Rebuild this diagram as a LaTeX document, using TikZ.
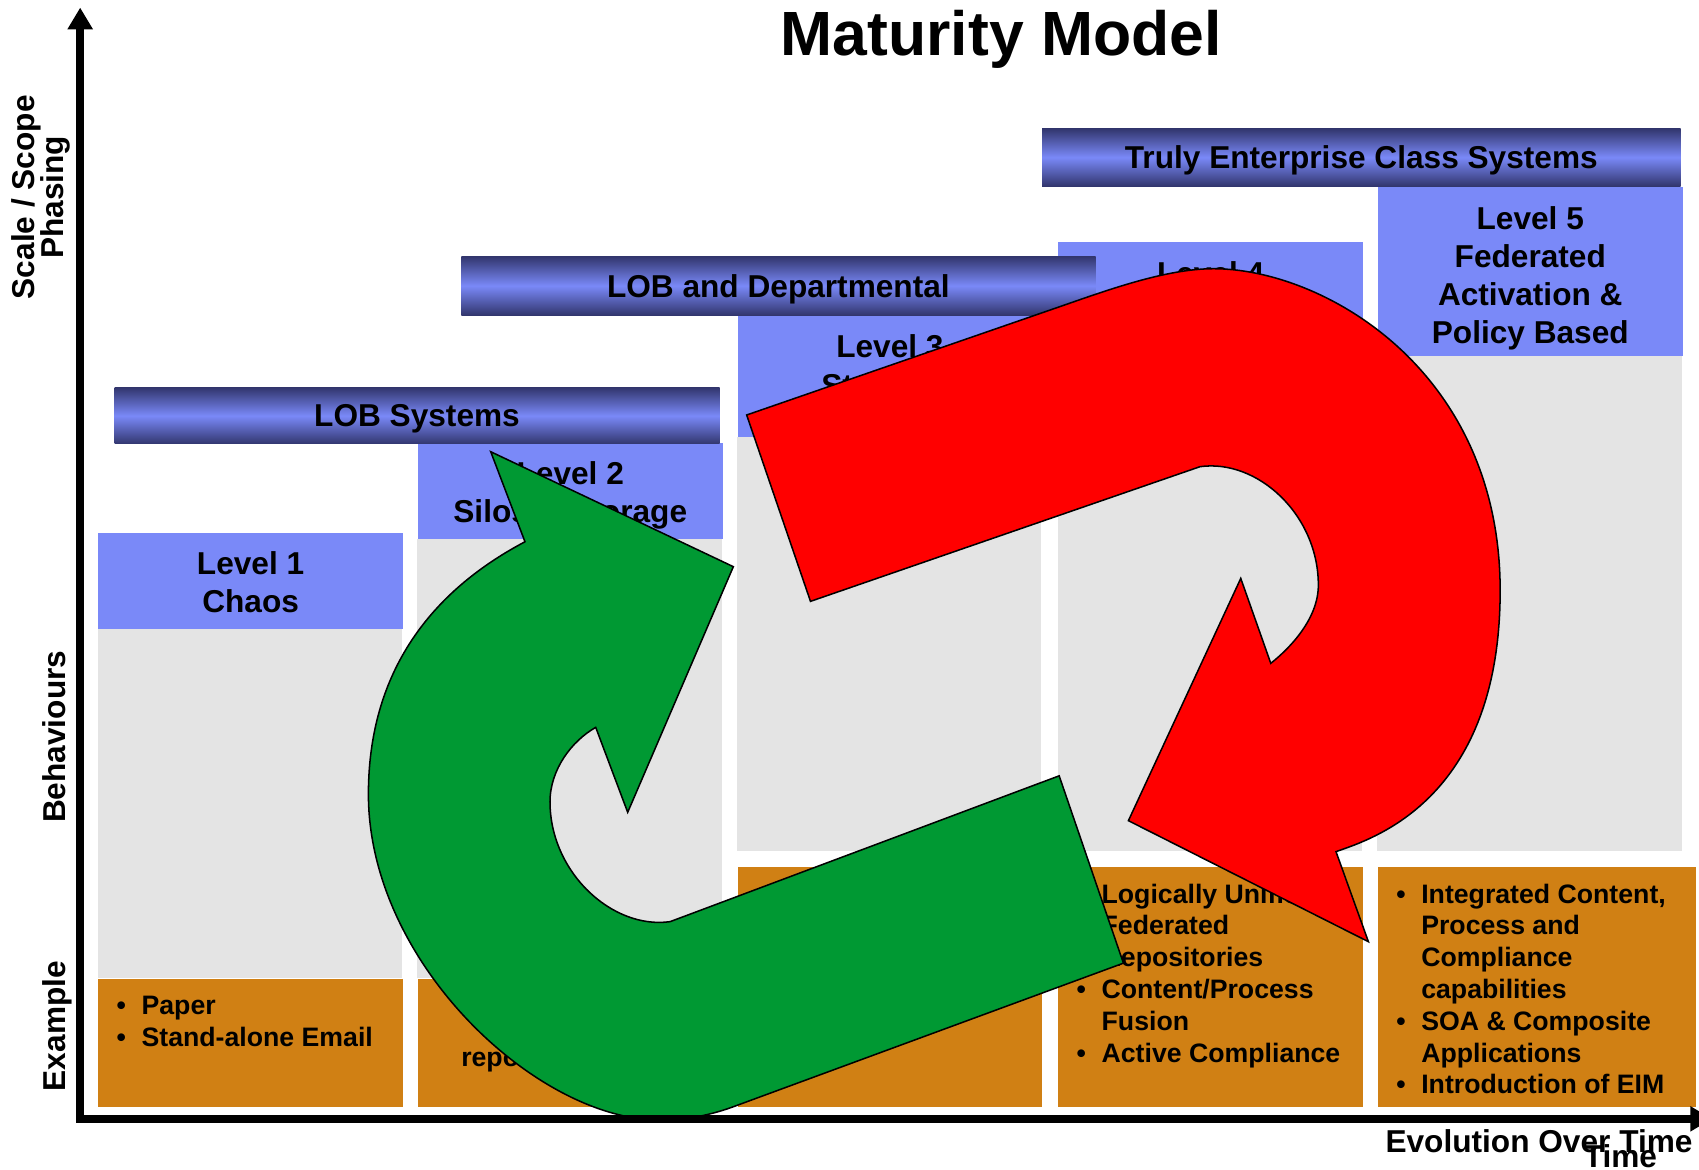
\documentclass[tikz,border=0pt]{standalone}
\usepackage{fontspec}
\setmainfont{Liberation Sans}
\usetikzlibrary{arrows.meta}
\definecolor{lvlblue}{RGB}{122,137,248}
\definecolor{banddark}{RGB}{50,54,110}
\definecolor{exorange}{RGB}{208,128,20}
\definecolor{gridgray}{RGB}{228,228,228}
\definecolor{loopgreen}{RGB}{0,153,51}
\definecolor{loopred}{RGB}{255,0,0}
\newcommand{\itemdot}{\makebox[0.23cm][l]{\textbullet}}
\newcommand{\itemgap}{\hspace*{0.23cm}}

\begin{document}
\begin{tikzpicture}[x=0.01cm, y=-0.01cm]
   \useasboundingbox (0,0) rectangle (1568,1079);
   \tikzstyle{banner}=[anchor=north west, inner sep=0, text depth=0pt, top color=banddark, bottom color=banddark, middle color=lvlblue, font=\fontsize{8.3}{10}\selectfont\bfseries]
   \tikzstyle{lvlbox}=[anchor=north west, inner sep=0, fill=lvlblue, minimum width=2.81cm]
   \tikzstyle{lvltext}=[anchor=north, inner xsep=0, inner ysep=0.175cm, align=center, font=\fontsize{8.3}{10}\selectfont\bfseries]
   \tikzstyle{exbox}=[anchor=north west, inner sep=0, fill=exorange, minimum width=2.81cm]
   \tikzstyle{extext}=[anchor=north west, inner xsep=0.17cm, inner ysep=0.16cm, align=left, font=\fontsize{7}{8.34}\selectfont\bfseries]
   \tikzstyle{axislabel}=[rotate=90, align=center, font=\fontsize{8.3}{7.5}\selectfont\bfseries, execute at begin node={\setlength{\lineskiplimit}{-5pt}}]
   \tikzstyle{timetext}=[anchor=base west, inner sep=0, font=\fontsize{8.3}{10}\selectfont\bfseries]
   \tikzstyle{looparrow}=[draw=black, line width=0.4pt, line join=miter]
   \tikzstyle{axis}=[line width=2pt, line cap=rect, -{Triangle[length=5.7pt, width=6.3pt]}]
   % grey behaviour columns
   \foreach \x/\ya/\yb in {90/580/903, 385/497/903, 680/403/785, 976/334/785, 1271/328/785}
      \fill[gridgray] (\x,\ya) rectangle (\x+281,\yb);
   % levels
   \node[lvlbox, minimum height=0.89cm] (lvl1) at (90,491) {};
   \node[lvltext] at (lvl1.north) {Level 1\\Chaos};
   \node[lvlbox, minimum height=0.89cm] (lvl2) at (385,408) {};
   \node[lvltext] at (lvl2.north) {Level 2\\Silos \& Storage};
   \node[lvlbox, minimum height=1.12cm] (lvl3) at (680,291) {};
   \node[lvltext] at (lvl3.north) {Level 3\\Standard};
   \node[lvlbox, minimum height=1.11cm] (lvl4) at (976,223) {};
   \node[lvltext] at (lvl4.north) {Level 4};
   \node[lvlbox, minimum height=1.56cm] (lvl5) at (1271,172) {};
   \node[lvltext] at (lvl5.north) {Level 5\\Federated\\Activation \&\\Policy Based};
   % scope banners
   \node[banner, minimum width=5.58cm, minimum height=0.52cm] (lob) at (105,357) {LOB Systems};
   \node[banner, minimum width=5.85cm, minimum height=0.54cm] (dept) at (425,236) {LOB and Departmental};
   \node[banner, minimum width=5.89cm, minimum height=0.53cm] (enterprise) at (961,118) {Truly Enterprise Class Systems};
   % examples
   \node[exbox, minimum height=1.18cm] (ex1) at (90,903) {};
   \node[extext] at (ex1.north west) {\itemdot Paper\\\itemdot Stand-alone Email};
   \node[exbox, minimum height=1.18cm] (ex2) at (385,903) {};
   \node[extext, inner sep=0, anchor=base west] at (425,984.5) {repositories};
   \node[exbox, minimum height=2.22cm] (ex3) at (680,799) {};
   \node[exbox, minimum height=2.22cm] (ex4) at (976,799) {};
   \node[extext] at (ex4.north west) {\itemdot Logically Unified\\\itemgap Federated\\\itemgap Repositories\\\itemdot Content/Process\\\itemgap Fusion\\\itemdot Active Compliance};
   \node[exbox, minimum width=2.93cm, minimum height=2.22cm] (ex5) at (1271,799) {};
   \node[extext] at (ex5.north west) {\itemdot Integrated Content,\\\itemgap Process and\\\itemgap Compliance\\\itemgap capabilities\\\itemdot SOA \& Composite\\\itemgap Applications\\\itemdot Introduction of EIM};
   % titles and axis labels
   \node[anchor=base, font=\fontsize{16.4}{20}\selectfont\bfseries] (title) at (924,51.5) {Maturity Model};
   \node[axislabel] (scope) at (38,182) {Scale / Scope\\Phasing};
   \node[axislabel, anchor=base] (behaviours) at (60,680) {Behaviours};
   \node[axislabel, anchor=base] (exlabel) at (60,947) {Example};
   \node[timetext] (evolution) at (1278,1064) {Evolution Over Time};
   \node[timetext] (time) at (1461,1077.5) {Time};
   % green loop
   \draw[looparrow, fill=loopgreen] (1036.8,888.9) -- (977.5,716) -- (618.4,850.6)
      .. controls (565,858) and (507.6,805) .. (507.6,740)
      .. controls (507.6,710) and (528,683.6) .. (549.8,671.3)
      -- (579.3,749.7) -- (676.8,523) -- (452.9,416.9) -- (484.5,500)
      .. controls (405,542) and (340,613) .. (340,733)
      .. controls (340,889) and (496,1033.7) .. (609,1033.7)
      .. controls (632,1033.7) and (654.8,1029.5) .. (676.8,1021.4)
      -- cycle;
   % red loop
   \draw[looparrow, fill=loopred] (748,555) -- (689.1,383) -- (975,284.1)
      .. controls (1020,268.5) and (1075,248) .. (1120,248)
      .. controls (1220.7,248) and (1384.5,341) .. (1384.5,545)
      .. controls (1384.5,741) and (1263.1,775) .. (1233,786)
      -- (1262.9,869.1) -- (1041.4,757.4) -- (1145.1,533.8) -- (1172.8,612.2)
      .. controls (1192.3,596.7) and (1216.7,570) .. (1216.7,540)
      .. controls (1216.7,475) and (1160.5,423.3) .. (1107.5,430.7)
      -- cycle;
   % axes
   \coordinate (corner) at (74,1032.6);
   \coordinate (ytip) at (74,7);
   \coordinate (xtip) at (1580,1032.6);
   \draw[axis] (corner) -- (ytip);
   \draw[axis] (corner) -- (xtip);
\end{tikzpicture}
\end{document}
